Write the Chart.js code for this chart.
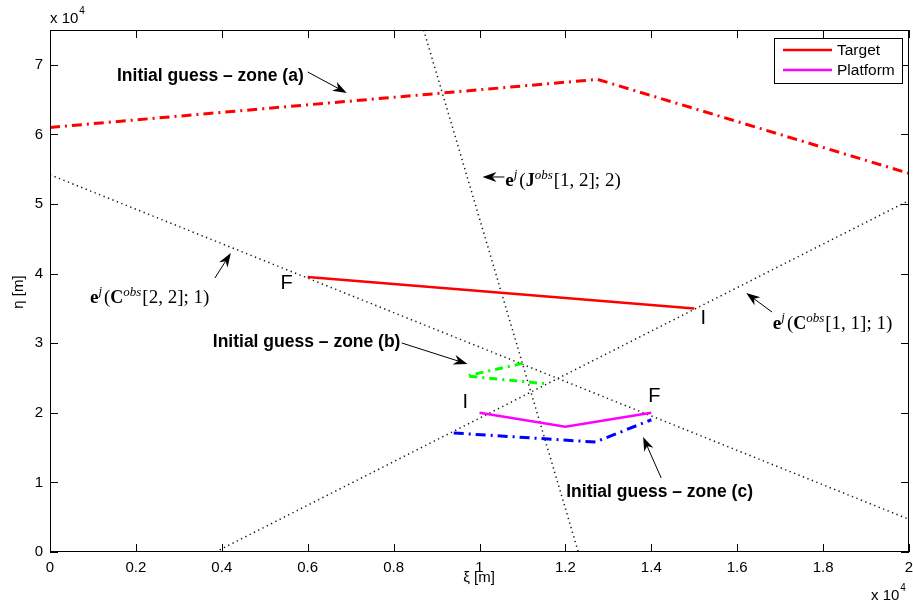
<!DOCTYPE html>
<html>
<head>
<meta charset="utf-8">
<script src="https://cdn.jsdelivr.net/npm/chart.js@4"></script>
<style>
  html, body { margin: 0; padding: 0; background: #fff; }
  #wrap { width: 913px; height: 604px; }
</style>
</head>
<body>
<div id="wrap"><canvas id="chartTrajectory"></canvas></div>
<script>
'use strict';

//colors

var colorRed = "rgb(255,000,000)";
var colorMagenta = "rgb(255,000,255)";
var colorGreen = "rgb(000,255,000)";
var colorBlue = "rgb(000,000,255)";
var colorDots = "rgb(020,020,020)";

//tick values (meters)

var xTicks = [0, 2000, 4000, 6000, 8000, 10000, 12000, 14000, 16000, 18000, 20000];
var yTicks = [0, 10000, 20000, 30000, 40000, 50000, 60000, 70000];

//series (xi, eta in meters)

var targetX = [6000, 15000];
var targetY = [39500, 35000];

var platformX = [10000, 12000, 14000];
var platformY = [20000, 18000, 20000];

var zoneAX = [0, 12750, 20000];
var zoneAY = [61000, 67900, 54400];

var zoneBX = [11000, 9700, 11500];
var zoneBY = [27100, 25300, 24200];

var zoneCX = [9400, 12700, 14000];
var zoneCY = [17100, 15800, 19000];

var isoC22X = [0, 20000];
var isoC22Y = [54200, 4700];

var isoC11X = [3850, 20000];
var isoC11Y = [0, 50500];

var isoJ12X = [8700, 12300];
var isoJ12Y = [75000, 0];

//annotations (anchors in data units)

var textNotes = [
    { text: "Initial guess \u2013 zone (a)", x: 1560, y: 68390 },
    { text: "Initial guess \u2013 zone (b)", x: 3790, y: 30170 },
    { text: "Initial guess \u2013 zone (c)", x: 12020, y: 8620 }
];

var mathNotes = [
    { mat: "C", idx: "[2, 2]; 1)", x: 930, y: 36640 },
    { mat: "J", idx: "[1, 2]; 2)", x: 10600, y: 53450 },
    { mat: "C", idx: "[1, 1]; 1)", x: 16830, y: 32900 }
];

var arrows = [
    { x0: 6000, y0: 68970, x1: 6910, y1: 65950 },
    { x0: 8190, y0: 30030, x1: 9720, y1: 27010 },
    { x0: 14230, y0: 10630, x1: 13810, y1: 16520 },
    { x0: 3840, y0: 39370, x1: 4210, y1: 42960 },
    { x0: 10580, y0: 53880, x1: 10070, y1: 53880 },
    { x0: 16810, y0: 34480, x1: 16210, y1: 37210 }
];

var endLetters = [
    { text: "F", x: 5510, y: 38650 },
    { text: "I", x: 15210, y: 33620 },
    { text: "I", x: 9670, y: 21550 },
    { text: "F", x: 14070, y: 22410 }
];

function zip(xs, ys) {
    return xs.map((v, i) => ({ x: v, y: ys[i] }));
}

function lineSet(label, xs, ys, color, width, dash) {
    return {
        label: label,
        data: zip(xs, ys),
        showLine: true,
        borderColor: color,
        backgroundColor: color,
        borderWidth: width,
        borderDash: dash,
        pointRadius: 0,
        tension: 0,
        fill: false
    };
}

const trajectoryData = {
    datasets: [
        lineSet('Target', targetX, targetY, colorRed, 2.5, []),
        lineSet('Platform', platformX, platformY, colorMagenta, 2.5, []),
        lineSet('zone a', zoneAX, zoneAY, colorRed, 3, [10, 5, 2, 5]),
        lineSet('zone b', zoneBX, zoneBY, colorGreen, 3, [8, 5, 2, 5]),
        lineSet('zone c', zoneCX, zoneCY, colorBlue, 3, [10, 5, 2, 5]),
        lineSet('C22', isoC22X, isoC22Y, colorDots, 1.5, [1.3, 3.5]),
        lineSet('C11', isoC11X, isoC11Y, colorDots, 1.5, [1.3, 3.5]),
        lineSet('J12', isoJ12X, isoJ12Y, colorDots, 1.5, [1.3, 3.5])
    ]
};

//draw an arrow with filled head at (x1,y1)
function drawArrow(ctx, x0, y0, x1, y1) {
    var ang = Math.atan2(y1 - y0, x1 - x0);
    var len = 14, half = 5;
    ctx.beginPath();
    ctx.moveTo(x0, y0);
    ctx.lineTo(x1 - Math.cos(ang) * len * 0.7, y1 - Math.sin(ang) * len * 0.7);
    ctx.stroke();
    ctx.beginPath();
    ctx.moveTo(x1, y1);
    ctx.lineTo(x1 - Math.cos(ang) * len - Math.sin(ang) * half, y1 - Math.sin(ang) * len + Math.cos(ang) * half);
    ctx.lineTo(x1 - Math.cos(ang) * len * 0.7, y1 - Math.sin(ang) * len * 0.7);
    ctx.lineTo(x1 - Math.cos(ang) * len + Math.sin(ang) * half, y1 - Math.sin(ang) * len - Math.cos(ang) * half);
    ctx.closePath();
    ctx.fill();
}

//draw e^j(M^obs[..]) like the latex label
function drawMath(ctx, note, px, py) {
    var serif = '"Liberation Serif", "DejaVu Serif", serif';
    var parts = [
        { t: "e", f: "bold 19px " + serif, dy: 0, gap: 0 },
        { t: "j", f: "italic 13px " + serif, dy: -8, gap: 2 },
        { t: "(", f: "19px " + serif, dy: 0, gap: 0 },
        { t: note.mat, f: "bold 18px " + serif, dy: 0, gap: 0 },
        { t: "obs", f: "italic 13px " + serif, dy: -7, gap: 1 },
        { t: note.idx, f: "19px " + serif, dy: 0, gap: 0 }
    ];
    var x = px;
    ctx.textAlign = 'left';
    ctx.textBaseline = 'alphabetic';
    parts.forEach(p => {
        ctx.font = p.f;
        ctx.fillText(p.t, x, py + 6 + p.dy);
        x += ctx.measureText(p.t).width + p.gap;
    });
}

//draw "x 10^4"
function drawExponent(ctx, x, y) {
    ctx.textAlign = 'left';
    ctx.textBaseline = 'alphabetic';
    ctx.font = '15px "Liberation Sans", Arial, sans-serif';
    ctx.fillText("x 10", x, y);
    var w = ctx.measureText("x 10").width;
    ctx.font = '10px "Liberation Sans", Arial, sans-serif';
    ctx.fillText("4", x + w + 1, y - 9);
}

const decorPlugin = {
    id: 'decor',
    afterDraw(chart) {
        var ctx = chart.ctx;
        var area = chart.chartArea;
        var sx = chart.scales.x, sy = chart.scales.y;
        var sans = '"Liberation Sans", Arial, sans-serif';
        ctx.save();

        //box
        ctx.strokeStyle = '#000';
        ctx.lineWidth = 1;
        ctx.strokeRect(area.left + 0.5, area.top + 0.5, area.right - area.left - 1, area.bottom - area.top - 1);

        //inner ticks
        ctx.beginPath();
        xTicks.forEach(v => {
            var p = Math.round(sx.getPixelForValue(v)) + 0.5;
            ctx.moveTo(p, area.bottom); ctx.lineTo(p, area.bottom - 8);
            ctx.moveTo(p, area.top); ctx.lineTo(p, area.top + 8);
        });
        yTicks.forEach(v => {
            var p = Math.round(sy.getPixelForValue(v)) + 0.5;
            ctx.moveTo(area.left, p); ctx.lineTo(area.left + 8, p);
            ctx.moveTo(area.right, p); ctx.lineTo(area.right - 8, p);
        });
        ctx.stroke();

        //axis titles
        ctx.fillStyle = '#000';
        ctx.font = '15px ' + sans;
        ctx.textAlign = 'center';
        ctx.textBaseline = 'middle';
        ctx.fillText("\u03be [m]", 479, 578);
        ctx.save();
        ctx.translate(19, 292);
        ctx.rotate(-Math.PI / 2);
        ctx.fillText("\u03b7 [m]", 0, 0);
        ctx.restore();

        drawExponent(ctx, 50, 23);
        drawExponent(ctx, 871, 600);

        //text notes
        ctx.font = 'bold 17.5px ' + sans;
        ctx.textAlign = 'left';
        ctx.textBaseline = 'middle';
        textNotes.forEach(n => {
            ctx.fillText(n.text, sx.getPixelForValue(n.x), sy.getPixelForValue(n.y));
        });

        //math notes
        mathNotes.forEach(n => {
            drawMath(ctx, n, sx.getPixelForValue(n.x), sy.getPixelForValue(n.y));
        });

        //arrows
        ctx.strokeStyle = '#000';
        ctx.fillStyle = '#000';
        ctx.lineWidth = 1;
        arrows.forEach(a => {
            drawArrow(ctx, sx.getPixelForValue(a.x0), sy.getPixelForValue(a.y0),
                sx.getPixelForValue(a.x1), sy.getPixelForValue(a.y1));
        });

        //start / end letters
        ctx.font = '20px ' + sans;
        ctx.textAlign = 'center';
        ctx.textBaseline = 'middle';
        endLetters.forEach(l => {
            ctx.fillText(l.text, sx.getPixelForValue(l.x), sy.getPixelForValue(l.y));
        });

        //legend
        var lx = 774, ly = 38, lw = 128, lh = 45;
        ctx.fillStyle = '#fff';
        ctx.fillRect(lx, ly, lw, lh);
        ctx.strokeStyle = '#000';
        ctx.lineWidth = 1;
        ctx.strokeRect(lx + 0.5, ly + 0.5, lw, lh);
        ctx.font = '15.5px ' + sans;
        ctx.textAlign = 'left';
        [0, 1].forEach(i => {
            var ds = chart.data.datasets[i];
            var yy = ly + 12 + i * 20;
            ctx.strokeStyle = ds.borderColor;
            ctx.lineWidth = 2.5;
            ctx.beginPath();
            ctx.moveTo(lx + 9, yy); ctx.lineTo(lx + 58, yy);
            ctx.stroke();
            ctx.fillStyle = '#000';
            ctx.fillText(ds.label, lx + 63, yy + 1);
        });

        ctx.restore();
    }
};

const trajectoryConfig = {
    type: 'scatter',
    data: trajectoryData,
    plugins: [decorPlugin],
    options: {
        responsive: true,
        maintainAspectRatio: false,
        animation: false,
        layout: { padding: { top: 30, right: 4, left: 0, bottom: 0 } },
        plugins: {
            legend: { display: false },
            tooltip: { enabled: false }
        },
        scales: {
            x: {
                type: 'linear',
                min: 0,
                max: 20000,
                afterBuildTicks: (axis) => { axis.ticks = xTicks.map(v => ({ value: v })); },
                afterFit: (axis) => {
                    axis.height = 52;
                    axis.paddingLeft = 0;
                    axis.paddingRight = 0;
                },
                grid: { display: false, drawTicks: false },
                border: { display: false },
                ticks: {
                    color: '#000',
                    padding: 7,
                    maxRotation: 0,
                    font: { family: '"Liberation Sans", Arial, sans-serif', size: 15 },
                    callback: (v) => String(Math.round(v / 1000) / 10)
                }
            },
            y: {
                type: 'linear',
                min: 0,
                max: 75000,
                afterBuildTicks: (axis) => { axis.ticks = yTicks.map(v => ({ value: v })); },
                afterFit: (axis) => {
                    axis.width = 50;
                    axis.paddingTop = 0;
                    axis.paddingBottom = 0;
                },
                grid: { display: false, drawTicks: false },
                border: { display: false },
                ticks: {
                    color: '#000',
                    padding: 7,
                    font: { family: '"Liberation Sans", Arial, sans-serif', size: 15 },
                    callback: (v) => String(v / 10000)
                }
            }
        }
    }
};

window.onload = function () {
    new Chart(document.getElementById('chartTrajectory'), trajectoryConfig);
};
</script>
</body>
</html>
